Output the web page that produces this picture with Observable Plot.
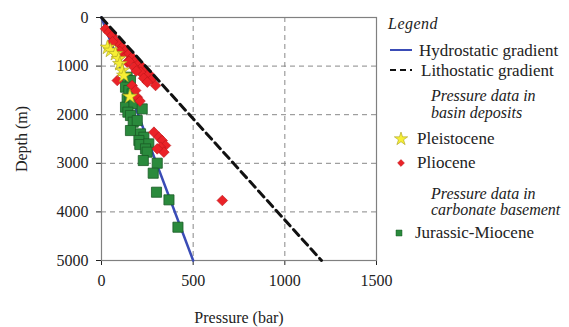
<!DOCTYPE html>
<html>
<head>
<meta charset="utf-8">
<script src="https://cdn.jsdelivr.net/npm/d3@7"></script>
<script src="https://cdn.jsdelivr.net/npm/@observablehq/plot@0.6"></script>
<style>
  html, body { margin: 0; padding: 0; background: #fff; }
  #wrap { position: relative; width: 569px; height: 327px; font-family: 'Liberation Serif', serif; color: #222; }
  #wrap svg text { font-family: 'Liberation Serif', serif !important; }
  #legend { position: absolute; left: 0; top: 0; width: 569px; height: 327px; pointer-events: none; }
  .lg { position: absolute; font-family: 'Liberation Serif', serif; font-size: 17px; line-height: 14px; white-space: nowrap; color: #222; }
  .it { font-style: italic; font-size: 16px; }
</style>
</head>
<body>
<div id="wrap"></div>
<script>
// Gradients
const hydroPressure = [0, 500];
const hydroDepth = [0, 5000];
const lithoPressure = [0, 1200];
const lithoDepth = [0, 5000];

// Pleistocene (stars)
const pleistPressure = [33, 49, 76, 94, 100, 113, 122, 155];
const pleistDepth = [617, 679, 747, 850, 953, 1091, 1194, 1626];

// Pliocene (diamonds)
const plioPressure = [22, 40, 58, 76, 95, 113, 131, 149, 167, 186, 204, 222, 240, 258, 277, 295, 213, 177, 140, 104, 86, 167, 195, 186, 210, 60, 100, 150, 190, 230, 250, 286, 313, 331, 349, 322, 340, 304, 659];
const plioDepth = [233, 302, 370, 473, 542, 611, 679, 748, 816, 885, 954, 1022, 1091, 1159, 1262, 1399, 1125, 1022, 919, 782, 1297, 1399, 1640, 1502, 1720, 500, 700, 900, 1100, 1250, 1330, 2360, 2463, 2531, 2634, 2669, 2771, 2703, 3766];

// Jurassic-Miocene (squares)
const jurPressure = [140, 158, 131, 149, 167, 140, 155, 131, 177, 144, 222, 158, 173, 195, 158, 213, 231, 204, 209, 258, 240, 249, 228, 304, 282, 300, 368, 417];
const jurDepth = [1228, 1297, 1434, 1502, 1571, 1674, 1708, 1845, 1777, 1948, 1880, 2017, 2154, 2120, 2326, 2394, 2463, 2531, 2614, 2600, 2703, 2771, 2943, 2998, 3204, 3595, 3752, 4315];

const xTicks = [0, 500, 1000, 1500];
const yTicks = [0, 1000, 2000, 3000, 4000, 5000];
const xGrid = [500, 1000];
const yGrid = [1000, 2000, 3000, 4000];

const zip = (xs, ys) => xs.map((x, i) => ({p: x, d: ys[i]}));
const hydro = zip(hydroPressure, hydroDepth);
const litho = zip(lithoPressure, lithoDepth);
const pleist = zip(pleistPressure, pleistDepth);
const plio = zip(plioPressure, plioDepth);
const jur = zip(jurPressure, jurDepth);

const chart = Plot.plot({
  width: 569,
  height: 327,
  marginLeft: 101,
  marginRight: 193,
  marginTop: 17,
  marginBottom: 67,
  style: { fontFamily: "'Liberation Serif', serif", fontSize: "16px", color: "#222", background: "#fff" },
  x: { domain: [0, 1500], ticks: xTicks, tickFormat: d => String(d), tickSize: 5, tickPadding: 9, label: "Pressure (bar)", labelAnchor: "center", labelArrow: "none", labelOffset: 62 },
  y: { domain: [0, 5000], reverse: true, ticks: yTicks, tickFormat: d => String(d), tickSize: 5, tickPadding: 8, label: "Depth (m)", labelAnchor: "center", labelArrow: "none", labelOffset: 86 },
  marks: [
    Plot.ruleX(xGrid, { stroke: "#888", strokeWidth: 1, strokeDasharray: "5,4" }),
    Plot.ruleY(yGrid, { stroke: "#888", strokeWidth: 1, strokeDasharray: "5,4" }),
    Plot.frame({ stroke: "#808080", strokeWidth: 1.2 }),
    Plot.line(hydro, { x: "p", y: "d", stroke: "#3a4cb6", strokeWidth: 2.5 }),
    Plot.dot(jur, { x: "p", y: "d", symbol: "square", r: 5.7, fill: "#2a8a3c", stroke: "#1b5a26", strokeWidth: 0.8 }),
    Plot.dot(plio, { x: "p", y: "d", symbol: "diamond2", r: 4.8, fill: "#ea2227", stroke: "#b8161a", strokeWidth: 0.6 }),
    Plot.dot(pleist, { x: "p", y: "d", symbol: "star", r: 4.6, fill: "#f7ef35", stroke: "#a8a020", strokeWidth: 0.6 }),
    Plot.line(litho, { x: "p", y: "d", stroke: "#111", strokeWidth: 3, strokeDasharray: "8,5" })
  ]
});

const wrap = document.getElementById("wrap");
wrap.appendChild(chart);

// Legend (HTML)
const lg = document.createElement("div");
lg.id = "legend";
const items = [
  {t: "Legend", x: 388, y: 23, cls: "it", letter: true},
  {t: "Hydrostatic gradient", x: 419, y: 50},
  {t: "Lithostatic gradient", x: 421, y: 70},
  {t: "Pressure data in", x: 431, y: 95, cls: "it"},
  {t: "basin deposits", x: 431, y: 112, cls: "it"},
  {t: "Pleistocene", x: 417, y: 138},
  {t: "Pliocene", x: 417, y: 162},
  {t: "Pressure data in", x: 431, y: 193, cls: "it"},
  {t: "carbonate basement", x: 431, y: 209, cls: "it"},
  {t: "Jurassic-Miocene", x: 415, y: 232}
];
for (const it of items) {
  const d = document.createElement("div");
  d.className = "lg " + (it.cls || "");
  d.textContent = it.t;
  d.style.left = it.x + "px";
  d.style.top = (it.y - 6) + "px";
  if (it.letter) d.style.letterSpacing = "0.5px";
  lg.appendChild(d);
}
const ns = "http://www.w3.org/2000/svg";
const sw = document.createElementNS(ns, "svg");
sw.setAttribute("width", 569); sw.setAttribute("height", 327);
sw.style.position = "absolute"; sw.style.left = "0"; sw.style.top = "0";
sw.innerHTML = `
  <line x1="390" x2="412" y1="50" y2="50" stroke="#3a4cb6" stroke-width="2"/>
  <line x1="390" x2="412" y1="70" y2="70" stroke="#111" stroke-width="2" stroke-dasharray="6,4"/>
  <path transform="translate(401,139)" d="${d3.symbol(d3.symbolStar, 55)()}" fill="#f7ef35" stroke="#a8a020" stroke-width="0.6"/>
  <path transform="translate(401,163)" d="${d3.symbol(d3.symbolDiamond2, 30)()}" fill="#ea2227" stroke="#b8161a" stroke-width="0.5"/>
  <path transform="translate(399,233)" d="${d3.symbol(d3.symbolSquare, 36)()}" fill="#2a8a3c" stroke="#1b5a26" stroke-width="0.5"/>
`;
lg.appendChild(sw);
wrap.appendChild(lg);
</script>
</body>
</html>
